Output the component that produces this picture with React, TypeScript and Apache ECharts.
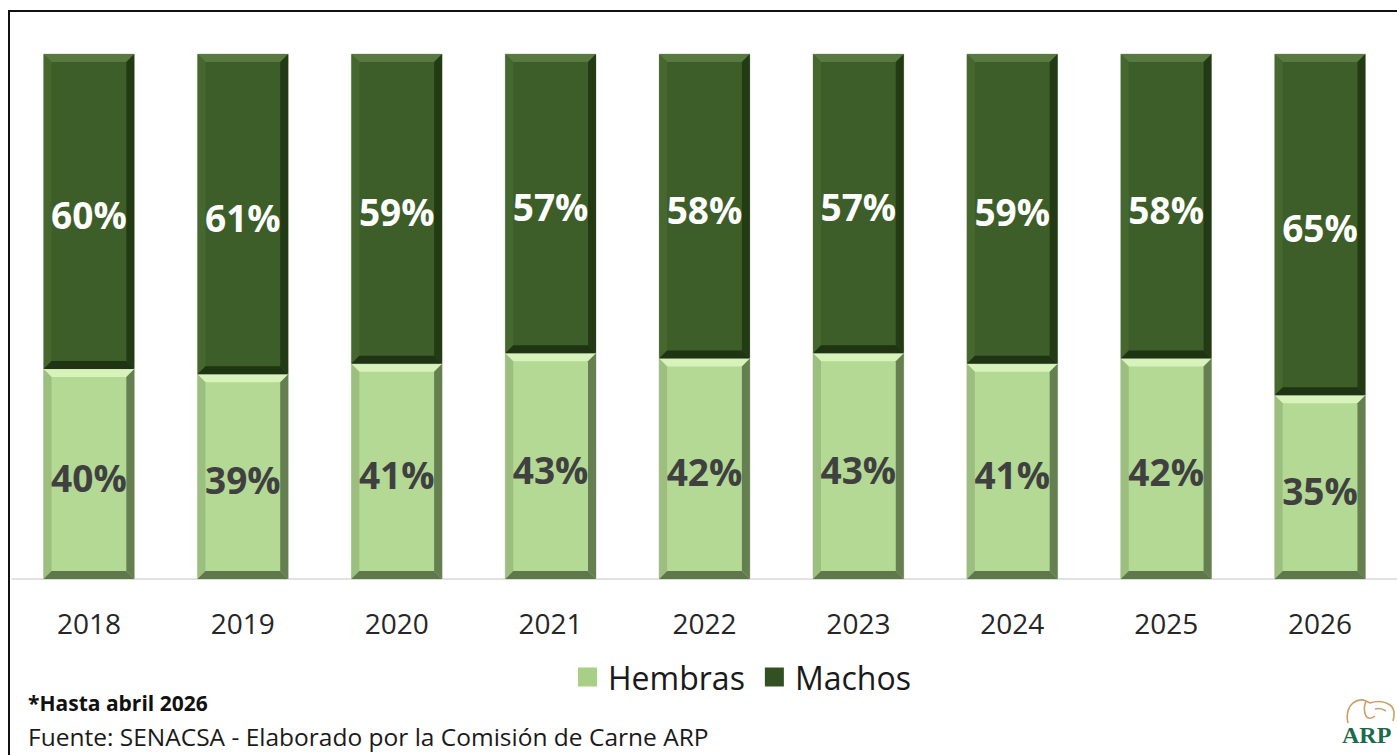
import React, { useEffect, useRef } from "react";
import * as echarts from "echarts";

const years = ["2018", "2019", "2020", "2021", "2022", "2023", "2024", "2025", "2026"];
const hembras = [40, 39, 41, 43, 42, 43, 41, 42, 35];
const machos = [60, 61, 59, 57, 58, 57, 59, 58, 65];
const seriesNames = ["Hembras", "Machos"];
const footnote = "*Hasta abril 2026";
const source = "Fuente: SENACSA - Elaborado por la Comisión de Carne ARP";

const cowPath =
  "M3,25 C1,17 3,9 8,5 C12,2 17,1 21,3 L25,5 C31,3 39,3 45,7 C49,10 50,16 48,23 M21,3 C19,8 19,14 21,18 C23,21 27,21 30,18 M30,11 C34,10 38,11 41,13";
echarts.graphic.registerShape("cow", (echarts.graphic as any).extendPath(cowPath, {}));

const palHem = {
  main: "#b3d994",
  top: "#d8f3ba",
  left: "#9cbf80",
  right: "#657f51",
  bottom: "#5e784b",
  outline: "#d0d8ca",
  label: "#404040",
};
const palMac = {
  main: "#3e5e29",
  top: "#58793f",
  left: "#46682f",
  right: "#233b15",
  bottom: "#1f3413",
  outline: "#d0d8ca",
  label: "#ffffff",
};

const makeRender = (pal: any) => (params: any, api: any) => {
  const i = api.value(0);
  const s = api.value(1);
  const e = api.value(2);
  const lab = api.value(3);
  const p0 = api.coord([i, s]);
  const p1 = api.coord([i, e]);
  const bw = api.size([1, 0])[0] * 0.59;
  const x0 = p0[0] - bw / 2;
  const x1 = p0[0] + bw / 2;
  const yT = p1[1];
  const yB = p0[1];
  const b = 8;
  return {
    type: "group",
    children: [
      {
        type: "rect",
        shape: { x: x0, y: yT, width: bw, height: yB - yT },
        style: { fill: pal.main, stroke: pal.outline, lineWidth: 1 },
      },
      {
        type: "polygon",
        shape: { points: [[x0, yT], [x1, yT], [x1 - b, yT + b], [x0 + b, yT + b]] },
        style: { fill: pal.top },
      },
      {
        type: "polygon",
        shape: { points: [[x0, yT], [x0 + b, yT + b], [x0 + b, yB - b], [x0, yB]] },
        style: { fill: pal.left },
      },
      {
        type: "polygon",
        shape: { points: [[x1, yT], [x1 - b, yT + b], [x1 - b, yB - b], [x1, yB]] },
        style: { fill: pal.right },
      },
      {
        type: "polygon",
        shape: { points: [[x0, yB], [x0 + b, yB - b], [x1 - b, yB - b], [x1, yB]] },
        style: { fill: pal.bottom },
      },
      {
        type: "text",
        style: {
          text: lab + "%",
          x: p0[0],
          y: (yT + yB) / 2 + 3,
          align: "center",
          verticalAlign: "middle",
          textAlign: "center",
          textVerticalAlign: "middle",
          fill: pal.label,
          fontSize: 37,
          fontWeight: "bold",
          fontFamily: "Open Sans",
        },
      },
    ],
  };
};

export default function App() {
  const ref = useRef<HTMLDivElement>(null);
  useEffect(() => {
    if (!ref.current) return;
    const chart = echarts.init(ref.current, null, { renderer: "svg" });
    const hemData = years.map((y, i) => [i, 0, hembras[i], hembras[i]]);
    const macData = years.map((y, i) => [i, hembras[i], hembras[i] + machos[i], machos[i]]);
    chart.setOption({
      animation: false,
      backgroundColor: "#ffffff",
      grid: { left: 12, width: 1387, top: 54, bottom: 176 },
      xAxis: {
        type: "category",
        data: years,
        axisLine: { show: true, lineStyle: { color: "#d9d9d9", width: 1.5 } },
        axisTick: { show: false },
        axisLabel: { fontSize: 28, color: "#262626", fontFamily: "Open Sans", margin: 30 },
      },
      yAxis: { type: "value", min: 0, max: 100, show: false, splitLine: { show: false } },
      legend: {
        data: seriesNames,
        top: 656,
        left: 573,
        icon: "rect",
        itemWidth: 19,
        itemHeight: 19,
        itemGap: 20,
        textStyle: { fontSize: 32, color: "#1a1a1a", fontFamily: "Open Sans", padding: [0, 0, 0, 6] },
      },
      series: [
        {
          name: seriesNames[0],
          type: "custom",
          renderItem: makeRender(palHem),
          data: hemData,
          encode: { x: 0, y: [1, 2] },
          itemStyle: { color: "#a7cf86" },
        },
        {
          name: seriesNames[1],
          type: "custom",
          renderItem: makeRender(palMac),
          data: macData,
          encode: { x: 0, y: [1, 2] },
          itemStyle: { color: "#335022" },
        },
      ],
      graphic: [
        {
          type: "rect",
          shape: { x: 9, y: 11, width: 1500, height: 1000 },
          style: { fill: "none", stroke: "#111111", lineWidth: 2 },
          z: 100,
        },
        {
          type: "text",
          left: 28,
          top: 692,
          style: { text: footnote, fontSize: 21, fontWeight: "bold", fontFamily: "Open Sans", fill: "#111111" },
        },
        {
          type: "text",
          left: 28,
          top: 724,
          style: { text: source, fontSize: 24.5, fontFamily: "Open Sans", fill: "#1a1a1a" },
        },
        {
          type: "cow",
          x: 1345,
          y: 698,
          style: { fill: "none", stroke: "#c8a068", lineWidth: 1.6 },
        },
        {
          type: "text",
          left: 1342,
          top: 723,
          style: { text: "ARP", fontSize: 24, fontWeight: "bold", fontFamily: "Liberation Serif", fill: "#1b6a4c" },
        },
      ],
    });
    return () => chart.dispose();
  }, []);
  return (
    <div style={{ position: "absolute", left: 0, top: 0, width: 1397, height: 755, overflow: "hidden" }}>
      <div ref={ref} style={{ width: 1397, height: 755 }} />
    </div>
  );
}
